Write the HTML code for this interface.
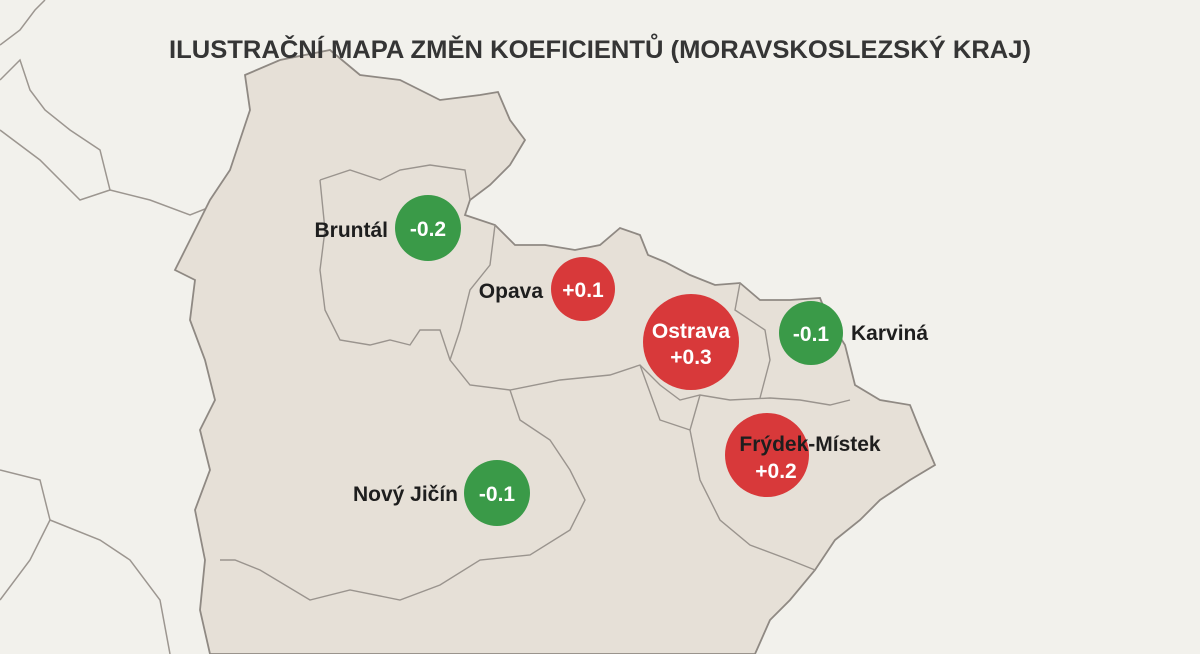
<!DOCTYPE html>
<html><head><meta charset="utf-8"><style>
html,body{margin:0;padding:0;background:#f2f1ec;}
svg{display:block}
text{font-family:"Liberation Sans",sans-serif;}
</style></head><body>
<svg width="1200" height="654" viewBox="0 0 1200 654" xmlns="http://www.w3.org/2000/svg">
<rect width="1200" height="654" fill="#f2f1ec"/>
<!-- outer borders on left -->
<g fill="none" stroke="#9c9690" stroke-width="1.5">
<path d="M0,45 L20,30 L35,10 L45,0"/>
<path d="M0,80 L20,60 L30,90 L45,110 L70,130 L100,150 L110,190 L150,200 L190,215 L215,205 L250,200"/>
<path d="M0,130 L40,160 L80,200 L110,190"/>
<path d="M0,470 L40,480 L50,520 L30,560 L0,600"/>
<path d="M50,520 L100,540 L130,560 L160,600 L170,654"/>
</g>
<!-- main region -->
<path fill="#e6e0d7" stroke="#8f8983" stroke-width="1.8" d="M245,75 L280,60 L330,50 L360,75 L400,80 L440,100 L480,95 L498,92 L510,120 L525,140 L510,165 L490,185 L470,200 L465,215 L495,225 L515,245 L545,245 L575,250 L600,245 L620,228 L640,235 L648,255 L665,262 L690,275 L715,285 L740,283 L760,300 L790,300 L820,298 L828,318 L845,345 L855,385 L880,400 L910,405 L920,430 L935,465 L910,480 L880,500 L860,520 L835,540 L815,570 L790,600 L770,620 L755,654 L210,654 L200,610 L205,560 L195,510 L210,470 L200,430 L215,400 L205,360 L190,320 L195,280 L175,270 L190,240 L210,200 L230,170 L240,140 L250,110 Z"/>
<!-- internal boundaries -->
<g fill="none" stroke="#9a948e" stroke-width="1.4">
<path d="M320,180 L350,170 L380,180 L400,170 L430,165 L465,170 L470,200"/>
<path d="M320,180 L325,230 L320,270 L325,310 L340,340 L370,345 L390,340 L410,345 L420,330 L440,330 L450,360 L470,385 L510,390 L560,380 L610,375 L640,365 L660,385 L680,400 L700,395 L730,400 L770,398 L800,400 L830,405 L850,400"/>
<path d="M495,225 L490,265 L470,290 L460,330 L450,360"/>
<path d="M510,390 L520,420 L550,440 L570,470 L585,500 L570,530 L530,555 L480,560 L440,585 L400,600 L350,590 L310,600 L260,570 L235,560 L220,560"/>
<path d="M740,283 L735,310 L765,330 L770,360 L760,398"/>
<path d="M700,395 L690,430 L700,480 L720,520 L750,545 L790,560 L815,570"/>
<path d="M640,365 L660,420 L690,430"/>
</g>
<text x="600" y="58" text-anchor="middle" font-size="25" font-weight="bold" fill="#353535" textLength="862" lengthAdjust="spacingAndGlyphs">ILUSTRAČNÍ MAPA ZMĚN KOEFICIENTŮ (MORAVSKOSLEZSKÝ KRAJ)</text>
<g font-weight="bold" text-anchor="middle">
<circle cx="428" cy="228" r="33" fill="#3a9a48"/><text x="428" y="236" font-size="21" fill="#fff">-0.2</text>
<text x="388" y="237" font-size="21" fill="#1e1e1e" text-anchor="end">Bruntál</text>
<circle cx="583" cy="289" r="32" fill="#d8393a"/><text x="583" y="297" font-size="21" fill="#fff">+0.1</text>
<text x="543" y="298" font-size="21" fill="#1e1e1e" text-anchor="end">Opava</text>
<circle cx="691" cy="342" r="48" fill="#d8393a"/><text x="691" y="338" font-size="21" fill="#fff">Ostrava</text><text x="691" y="364" font-size="21" fill="#fff">+0.3</text>
<circle cx="811" cy="333" r="32" fill="#3a9a48"/><text x="811" y="341" font-size="21" fill="#fff">-0.1</text>
<text x="851" y="340" font-size="21" fill="#1e1e1e" text-anchor="start">Karviná</text>
<circle cx="767" cy="455" r="42" fill="#d8393a"/><text x="810" y="451" font-size="21" fill="#1e1e1e">Frýdek-Místek</text>
<text x="776" y="478" font-size="21" fill="#fff">+0.2</text>
<circle cx="497" cy="493" r="33" fill="#3a9a48"/><text x="497" y="501" font-size="21" fill="#fff">-0.1</text>
<text x="458" y="501" font-size="21" fill="#1e1e1e" text-anchor="end">Nový Jičín</text>
</g>
</svg>
</body></html>
